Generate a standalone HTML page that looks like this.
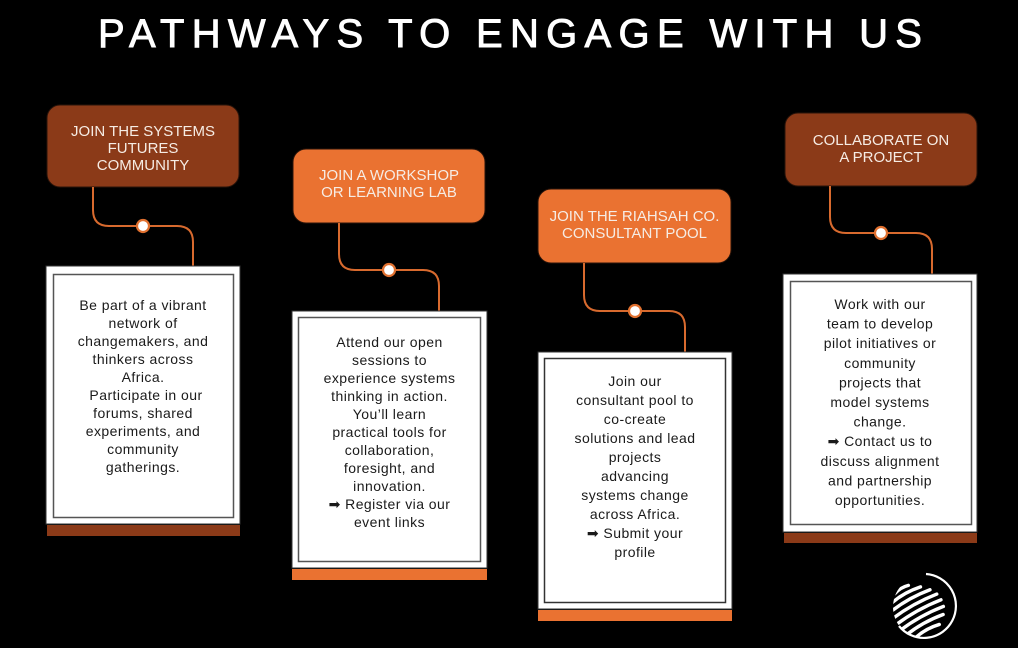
<!DOCTYPE html>
<html>
<head>
<meta charset="utf-8">
<style>
  html,body{margin:0;padding:0;background:#000;}
  body{width:1018px;height:648px;overflow:hidden;}
  svg{display:block;}
  .hd{font-family:"Liberation Sans",sans-serif;font-size:15px;fill:#f6ece4;text-anchor:middle;}
  .bt{font-family:"Liberation Sans","DejaVu Sans",sans-serif;font-size:14px;fill:#1a1a1a;text-anchor:middle;letter-spacing:0.45px;}
  .ln{fill:none;stroke:#d86a2e;stroke-width:2;}
  .dot{fill:#fff;stroke:#e0702f;stroke-width:2.2;}
</style>
</head>
<body>
<svg width="1018" height="648" viewBox="0 0 1018 648" xmlns="http://www.w3.org/2000/svg">
  <rect x="0" y="0" width="1018" height="648" fill="#000"/>

  <!-- Title -->
  <text x="98" y="47" textLength="824" lengthAdjust="spacing" font-family="Liberation Sans, sans-serif" font-size="40" font-weight="normal" fill="#fff" stroke="#fff" stroke-width="0.9">PATHWAYS TO ENGAGE WITH US</text>

  <!-- ============ CARD 1 ============ -->
  <rect x="47" y="105" width="192" height="82" rx="13" fill="#8b3a18" stroke="#2a140a" stroke-width="1"/>
  <text class="hd" x="143" y="136">JOIN THE SYSTEMS</text>
  <text class="hd" x="143" y="153">FUTURES</text>
  <text class="hd" x="143" y="170">COMMUNITY</text>
  <path class="ln" d="M93 187 V210 Q93 226 109 226 H177 Q193 226 193 242 V267"/>
  <circle class="dot" cx="143" cy="226" r="6"/>
  <rect x="46" y="266" width="194" height="258" fill="#fff" stroke="#333" stroke-width="1"/>
  <rect x="53.5" y="274.5" width="180" height="243" fill="#fff" stroke="#555" stroke-width="1.5"/>
  <rect x="47" y="525" width="193" height="11" fill="#8b3a18"/>
  <g class="bt">
    <text x="143" y="310">Be part of a vibrant</text>
    <text x="143" y="328">network of</text>
    <text x="143" y="346">changemakers, and</text>
    <text x="143" y="364">thinkers across</text>
    <text x="143" y="382">Africa.</text>
    <text x="146" y="400">Participate in our</text>
    <text x="143" y="418">forums, shared</text>
    <text x="143" y="436">experiments, and</text>
    <text x="143" y="454">community</text>
    <text x="143" y="472">gatherings.</text>
  </g>

  <!-- ============ CARD 2 ============ -->
  <rect x="293" y="149" width="192" height="74" rx="13" fill="#ea7231" stroke="#2a140a" stroke-width="1"/>
  <text class="hd" x="389" y="180">JOIN A WORKSHOP</text>
  <text class="hd" x="389" y="197">OR LEARNING LAB</text>
  <path class="ln" d="M339 223 V254 Q339 270 355 270 H423 Q439 270 439 286 V312"/>
  <circle class="dot" cx="389" cy="270" r="6"/>
  <rect x="292" y="311" width="195" height="257" fill="#fff" stroke="#333" stroke-width="1"/>
  <rect x="298.5" y="317.5" width="182" height="244" fill="#fff" stroke="#555" stroke-width="1.5"/>
  <rect x="292" y="569" width="195" height="11" fill="#ea7231"/>
  <g class="bt">
    <text x="389.5" y="347">Attend our open</text>
    <text x="389.5" y="365">sessions to</text>
    <text x="389.5" y="383">experience systems</text>
    <text x="389.5" y="401">thinking in action.</text>
    <text x="389.5" y="419">You’ll learn</text>
    <text x="389.5" y="437">practical tools for</text>
    <text x="389.5" y="455">collaboration,</text>
    <text x="389.5" y="473">foresight, and</text>
    <text x="389.5" y="491">innovation.</text>
    <text x="389.5" y="509">➡ Register via our</text>
    <text x="389.5" y="527">event links</text>
  </g>

  <!-- ============ CARD 3 ============ -->
  <rect x="538" y="189" width="193" height="74" rx="13" fill="#ea7231" stroke="#2a140a" stroke-width="1"/>
  <text class="hd" x="634.5" y="221">JOIN THE RIAHSAH CO.</text>
  <text class="hd" x="634.5" y="238">CONSULTANT POOL</text>
  <path class="ln" d="M584 263 V295 Q584 311 600 311 H669 Q685 311 685 327 V353"/>
  <circle class="dot" cx="635" cy="311" r="6"/>
  <rect x="538" y="352" width="194" height="257" fill="#fff" stroke="#333" stroke-width="1"/>
  <rect x="544.5" y="358.5" width="181" height="244" fill="#fff" stroke="#333" stroke-width="1.5"/>
  <rect x="538" y="610" width="194" height="11" fill="#ea7231"/>
  <g class="bt">
    <text x="635" y="386">Join our</text>
    <text x="635" y="405">consultant pool to</text>
    <text x="635" y="424">co-create</text>
    <text x="635" y="443">solutions and lead</text>
    <text x="635" y="462">projects</text>
    <text x="635" y="481">advancing</text>
    <text x="635" y="500">systems change</text>
    <text x="635" y="519">across Africa.</text>
    <text x="635" y="538">➡ Submit your</text>
    <text x="635" y="557">profile</text>
  </g>

  <!-- ============ CARD 4 ============ -->
  <rect x="785" y="113" width="192" height="73" rx="13" fill="#8b3a18" stroke="#2a140a" stroke-width="1"/>
  <text class="hd" x="881" y="145">COLLABORATE ON</text>
  <text class="hd" x="881" y="162">A PROJECT</text>
  <path class="ln" d="M830 186 V217 Q830 233 846 233 H916 Q932 233 932 249 V275"/>
  <circle class="dot" cx="881" cy="233" r="6"/>
  <rect x="783" y="274" width="194" height="258" fill="#fff" stroke="#333" stroke-width="1"/>
  <rect x="790.5" y="281.5" width="181" height="243" fill="#fff" stroke="#555" stroke-width="1.5"/>
  <rect x="784" y="533" width="193" height="10" fill="#8b3a18"/>
  <g class="bt">
    <text x="880" y="309">Work with our</text>
    <text x="880" y="328.6">team to develop</text>
    <text x="880" y="348.2">pilot initiatives or</text>
    <text x="880" y="367.8">community</text>
    <text x="880" y="387.4">projects that</text>
    <text x="880" y="407">model systems</text>
    <text x="880" y="426.6">change.</text>
    <text x="880" y="446.2">➡ Contact us to</text>
    <text x="880" y="465.8">discuss alignment</text>
    <text x="880" y="485.4">and partnership</text>
    <text x="880" y="505">opportunities.</text>
  </g>

  <!-- ============ LOGO ============ -->
  <defs>
    <clipPath id="globeClip">
      <ellipse cx="921" cy="607" rx="28" ry="30"/>
    </clipPath>
  </defs>
  <path d="M926 574 A32 32 0 1 1 899 626" fill="none" stroke="#fff" stroke-width="2.2"/>
  <g clip-path="url(#globeClip)" stroke="#fff" stroke-width="3.4" stroke-linecap="round" fill="none">
    <g transform="rotate(-28 921 607)">
      <path d="M904 583 Q912 580 920 582"/>
      <path d="M896 590 Q912 586 930 589"/>
      <path d="M892 597 Q914 593 937 596"/>
      <path d="M890 604 Q915 600 941 603"/>
      <path d="M890 611 Q916 607 942 610"/>
      <path d="M891 618 Q916 614 941 617"/>
      <path d="M894 625 Q915 621 937 624"/>
      <path d="M900 632 Q914 628 929 631"/>
    </g>
  </g>
</svg>
</body>
</html>
